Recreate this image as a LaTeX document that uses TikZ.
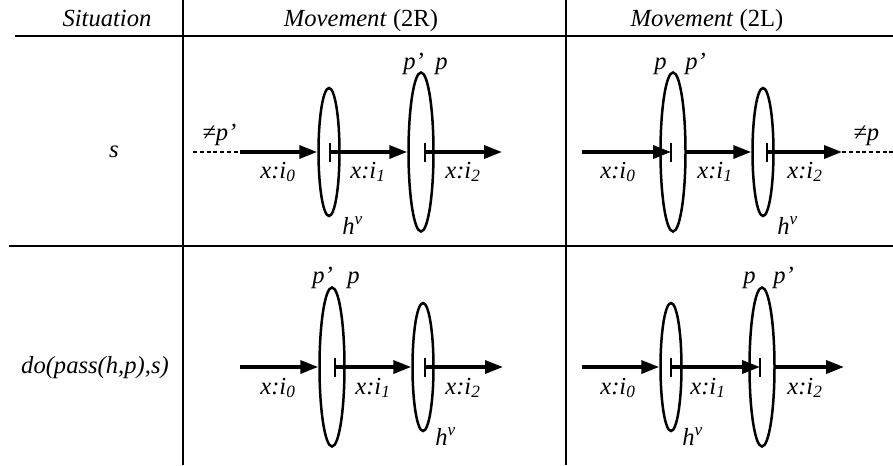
\documentclass[tikz,border=0pt]{standalone}
\usepackage{fontspec}
\setmainfont{Liberation Serif}
\usetikzlibrary{arrows.meta,shapes.geometric}
\newcommand\cellfont{\fontsize{14}{17}\selectfont}
\tikzset{
  rule/.style={line width=0.4mm, draw=black},
  hd/.style={anchor=base, inner sep=0pt, font=\cellfont},
  lbl/.style={anchor=base west, inner sep=0pt, font=\cellfont\itshape},
  mv/.style={-{Triangle[length=3.6mm,width=2.6mm]}, line width=0.7mm},
  tick/.style={line width=0.5mm},
  trail/.style={line width=0.26mm, dash pattern=on 0.8mm off 0.55mm},
  ring/.style={ellipse, draw, line width=0.5mm, inner sep=0pt},
  pring/.style={ring, minimum width=5mm, minimum height=31.8mm},
  hring/.style={ring, minimum width=4.2mm, minimum height=25.6mm},
}
\begin{document}
\begin{tikzpicture}[x=0.2mm,y=-0.2mm]
  \useasboundingbox (0,0) rectangle (893,465);
  % table
  \draw[rule] (15,36) -- (893,36);
  \draw[rule] (9,246) -- (893,246);
  \foreach \x in {183,566} \draw[rule] (\x,0) -- (\x,465);
  \node[hd] (hsit) at (107,26) {\textit{Situation}};
  \node[hd] (h2r) at (361,26) {\textit{Movement} (2R)};
  \node[hd] (h2l) at (707,26) {\textit{Movement} (2L)};
  \node[hd] (sit1) at (114,157) {\textit{s}};
  \node[hd] (sit2) at (95,373) {\textit{do(pass(h,p),s)}};
  % s, 2R
  \node[hring] (hA) at (329,152) {};
  \node[pring] (pA) at (421,152) {};
  \coordinate (fA) at (193,152);
  \coordinate (inA) at (240,152);
  \coordinate (bA1) at (330,152);
  \coordinate (bA2) at (425,152);
  \coordinate (outA) at (502,152);
  \draw[trail] (fA) -- (inA);
  \draw[mv] (inA) -- (hA.west);
  \draw[mv] (bA1) -- (pA.west);
  \draw[mv] (bA2) -- (outA);
  \foreach \b in {bA1,bA2} \draw[tick] (\b) ++(0,-9.5) -- ++(0,19);
  \node[lbl] (nA) at (202,140) {≠p’};
  \node[lbl] (xA0) at (260,178) {x:i\textsubscript{0}};
  \node[lbl] (xA1) at (350,178) {x:i\textsubscript{1}};
  \node[lbl] (xA2) at (445,178) {x:i\textsubscript{2}};
  \node[lbl] (hvA) at (342,234) {h\textsuperscript{v}};
  \node[lbl] (qA) at (403,69) {p’};
  \node[lbl] (rA) at (435,69) {p};
  % s, 2L
  \node[pring] (pB) at (673,152) {};
  \node[hring] (hB) at (763,152) {};
  \coordinate (inB) at (582,152);
  \coordinate (bB1) at (671,152);
  \coordinate (bB2) at (767,152);
  \coordinate (outB) at (842,152);
  \coordinate (fB) at (893,152);
  \draw[mv] (inB) -- (bB1);
  \draw[mv] (pB.east) -- (hB.west);
  \draw[mv] (bB2) -- (outB);
  \draw[trail] (outB) -- (fB);
  \foreach \b in {bB1,bB2} \draw[tick] (\b) ++(0,-9.5) -- ++(0,19);
  \node[lbl] (nB) at (853,140) {≠p};
  \node[lbl] (xB0) at (600,178) {x:i\textsubscript{0}};
  \node[lbl] (xB1) at (697,178) {x:i\textsubscript{1}};
  \node[lbl] (xB2) at (787,178) {x:i\textsubscript{2}};
  \node[lbl] (hvB) at (777,234) {h\textsuperscript{v}};
  \node[lbl] (rB) at (654,69) {p};
  \node[lbl] (qB) at (685,69) {p’};
  % do(pass(h,p),s), 2R
  \node[pring] (pC) at (332,367) {};
  \node[hring] (hC) at (423,367) {};
  \coordinate (inC) at (240,367);
  \coordinate (bC1) at (335,367);
  \coordinate (bC2) at (425,367);
  \coordinate (outC) at (503,367);
  \draw[mv] (inC) -- (pC.west);
  \draw[mv] (bC1) -- (hC.west);
  \draw[mv] (bC2) -- (outC);
  \foreach \b in {bC1,bC2} \draw[tick] (\b) ++(0,-9.5) -- ++(0,19);
  \node[lbl] (xC0) at (260,394) {x:i\textsubscript{0}};
  \node[lbl] (xC1) at (355,394) {x:i\textsubscript{1}};
  \node[lbl] (xC2) at (445,394) {x:i\textsubscript{2}};
  \node[lbl] (hvC) at (435,445) {h\textsuperscript{v}};
  \node[lbl] (qC) at (312,283) {p’};
  \node[lbl] (rC) at (347,283) {p};
  % do(pass(h,p),s), 2L
  \node[hring] (hD) at (671,367) {};
  \node[pring] (pD) at (762,367) {};
  \coordinate (inD) at (582,367);
  \coordinate (bD1) at (671,367);
  \coordinate (bD2) at (760,367);
  \coordinate (outD) at (844,367);
  \draw[mv] (inD) -- (hD.west);
  \draw[mv] (bD1) -- (bD2);
  \draw[mv] (pD.east) -- (outD);
  \foreach \b in {bD1,bD2} \draw[tick] (\b) ++(0,-9.5) -- ++(0,19);
  \node[lbl] (xD0) at (600,394) {x:i\textsubscript{0}};
  \node[lbl] (xD1) at (690,394) {x:i\textsubscript{1}};
  \node[lbl] (xD2) at (787,394) {x:i\textsubscript{2}};
  \node[lbl] (hvD) at (682,445) {h\textsuperscript{v}};
  \node[lbl] (rD) at (743,283) {p};
  \node[lbl] (qD) at (773,283) {p’};
\end{tikzpicture}
\end{document}
